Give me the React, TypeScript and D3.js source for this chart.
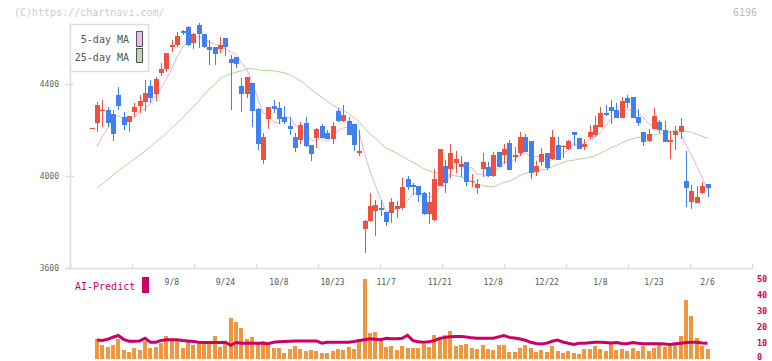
import React from "react";
import * as d3 from "d3";

const dates = ["8/18","8/19","8/20","8/21","8/22","8/25","8/26","8/27","8/28","8/29","9/1","9/2","9/3","9/4","9/5","9/8","9/9","9/10","9/11","9/12","9/16","9/17","9/18","9/19","9/22","9/24","9/25","9/26","9/29","9/30","10/1","10/2","10/3","10/6","10/7","10/8","10/9","10/10","10/14","10/15","10/16","10/17","10/20","10/21","10/22","10/23","10/24","10/27","10/28","10/29","10/30","10/31","11/4","11/5","11/6","11/7","11/10","11/11","11/12","11/13","11/14","11/17","11/18","11/19","11/20","11/21","11/25","11/26","11/27","11/28","12/1","12/2","12/3","12/4","12/5","12/8","12/9","12/10","12/11","12/12","12/15","12/16","12/17","12/18","12/19","12/22","12/23","12/24","12/25","12/26","12/29","12/30","1/5","1/6","1/7","1/8","1/9","1/13","1/14","1/15","1/16","1/19","1/20","1/21","1/22","1/23","1/26","1/27","1/28","1/29","1/30","2/2","2/3","2/4","2/5","2/6"];

const open = [4210,4232,4285,4287,4270,4352,4257,4233,4280,4306,4323,4393,4357,4449,4464,4560,4570,4630,4649,4580,4657,4617,4560,4560,4551,4599,4509,4519,4393,4357,4406,4291,4070,4248,4304,4294,4255,4217,4171,4157,4229,4135,4164,4217,4186,4161,4284,4239,4239,4225,4104,3770,3804,3848,3861,3845,3838,3857,3862,3987,3960,3957,3925,3835,3809,3958,4043,4029,4058,4040,4062,3977,3950,4030,4038,4000,4106,4091,4145,4084,4101,4171,4152,4017,4062,4101,4073,4135,4127,4117,4191,4164,4127,4171,4178,4214,4275,4299,4287,4253,4338,4345,4255,4193,4154,4204,4235,4200,4149,4178,4193,3978,3888,3884,3927,3965];
const high = [4210,4323,4330,4300,4287,4388,4280,4262,4317,4352,4417,4417,4430,4490,4536,4591,4627,4635,4652,4623,4664,4617,4591,4560,4606,4599,4526,4519,4425,4429,4406,4294,4186,4299,4330,4320,4304,4255,4186,4233,4255,4135,4207,4225,4200,4236,4297,4309,4258,4225,4200,3809,3925,3896,3896,3845,3903,3891,3993,4000,3971,3957,3932,3932,4029,4117,4070,4139,4110,4087,4062,4007,3987,4101,4061,4106,4106,4139,4157,4126,4191,4183,4152,4067,4122,4101,4200,4171,4135,4157,4191,4164,4160,4222,4261,4301,4309,4330,4316,4342,4352,4345,4290,4193,4203,4294,4243,4239,4196,4219,4251,4109,3961,3957,3975,3965];
const low = [4210,4193,4214,4215,4153,4287,4200,4193,4257,4275,4284,4319,4327,4435,4453,4538,4562,4615,4565,4551,4557,4555,4483,4483,4533,4522,4287,4468,4280,4338,4212,4113,4052,4204,4273,4226,4226,4178,4106,4139,4125,4067,4123,4164,4161,4138,4236,4233,4178,4110,4088,3667,3801,3739,3828,3783,3797,3819,3852,3939,3917,3888,3830,3791,3806,3958,3928,3993,4012,3997,3957,3951,3922,3994,3997,3997,4038,4052,4026,4061,4087,4106,3987,4000,4043,4026,4070,4070,4077,4113,4132,4117,4113,4160,4168,4212,4261,4226,4251,4253,4294,4253,4219,4132,4149,4204,4188,4149,4074,4113,4160,3867,3858,3884,3922,3907];
const close = [4210,4309,4288,4232,4181,4306,4222,4260,4299,4327,4362,4338,4422,4465,4533,4570,4610,4623,4570,4617,4617,4560,4548,4530,4570,4560,4490,4486,4357,4429,4284,4139,4168,4299,4291,4248,4236,4204,4123,4222,4132,4096,4204,4164,4161,4217,4239,4265,4178,4135,4107,3806,3870,3874,3852,3801,3887,3870,3953,3951,3951,3917,3835,3888,3987,4117,3968,4101,4074,4052,3975,3979,3965,4062,4000,4091,4040,4117,4026,4091,4171,4106,4014,4043,4096,4035,4171,4070,4132,4152,4178,4117,4139,4193,4222,4275,4265,4284,4253,4326,4319,4253,4232,4149,4183,4261,4202,4149,4157,4196,4217,3950,3935,3910,3957,3950];

// moving averages: first values (before enough history is visible)
const ma5Head = [null, 4126, 4170, 4209];
const ma25Head = [null,3948,3965,3983,4004,4022,4039,4057,4074,4091,4109,4126,4148,4165,4187,4209,4230,4252,4278,4300,4326,4352,4378,4396];

const volume = [null,12.3,8.5,7.3,8.5,12.3,5.4,4.2,6.7,5.4,11,6.7,7.3,9.8,14.2,12.3,11,6.7,11,8.5,9.8,9.8,9.8,14.2,7.3,11,25.4,23,19.2,12.3,13.5,9.8,11,8.5,6.7,6.7,3.6,6.1,7.9,6.1,4.8,5.4,4.8,3.6,3.6,4.8,6.1,5.4,7.3,6.1,11,49.8,16,16.7,11,7.3,7.9,5.4,7.9,6.7,6.7,6.7,9.2,7.3,14.8,11.7,14.8,17.3,7.9,8.5,9.2,6.7,6.1,8.5,6.1,5.4,8.5,8.5,4.2,4.2,6.7,8.5,6.7,4.2,5.4,4.2,7.9,4.8,3.6,4.8,3.6,3.0,6.1,6.1,7.9,6.1,4.8,9.8,5.4,6.1,4.8,6.7,4.8,7.9,4.8,6.7,8.5,7.3,7.9,9.2,14.2,36.7,26.7,12.9,7.9,6.1];

const aiPredict = [null,11.5,11.2,12.0,13.3,14.4,12.0,10.8,10.8,11.0,12.7,10.2,10.2,11.3,11.7,11.7,11.7,11.2,11.0,10.6,10.2,10.0,10.0,10.0,10.0,10.2,8.3,10.0,9.6,9.6,9.6,9.6,9.5,9.2,10.1,10.4,10.6,10.8,11.0,11.0,11.0,11.0,11.0,9.6,10.2,10.2,10.2,10.2,10.2,10.6,11.2,11.7,12.3,12.0,11.8,12.6,12.4,12.4,12.6,14.5,11.2,10.4,10.2,10.4,11.2,12.5,13.2,13.6,13.8,13.8,13.5,12.9,12.7,12.7,12.7,12.7,13.5,14.3,13.2,12.8,12.2,11.4,10.1,9.4,9.0,9.6,10.8,11.5,10.3,9.5,8.8,9.5,9.6,9.9,10.2,10.2,10.0,9.7,10.0,9.4,9.2,10.0,9.6,9.2,9.2,9.2,9.2,9.0,8.8,9.2,9.6,10.0,10.2,10.2,9.7,9.6];

const dateLabels = ["9/8","9/24","10/8","10/23","11/7","11/21","12/8","12/22","1/8","1/23","2/6"];
const priceTicks = [3600, 4000, 4400];
const volumeTicks = [0, 10, 20, 30, 40, 50];

const FONT = "'DejaVu Sans Mono', monospace";
const UP = "#f0503f";
const DOWN = "#4080f0";

function movingAvg(head: (number | null)[], n: number): (number | null)[] {
  return close.map((_, i) => {
    if (i < n - 1) return head[i] ?? null;
    return d3.mean(close.slice(i - n + 1, i + 1)) as number;
  });
}

export default function App() {
  const n = close.length;
  const plotLeft = 70;
  const plotRight = 752;
  const x = d3.scaleLinear().domain([0, n - 1]).range([91.5, 707.5]);
  const y = d3.scaleLinear().domain([3600, 4400]).range([268, 84]);
  const yv = d3.scaleLinear().domain([0, 50]).range([358.5, 278.5]);

  const ma5 = movingAvg(ma5Head, 5);
  const ma25 = movingAvg(ma25Head, 25);

  const maLine = d3
    .line<number | null>()
    .defined((d) => d != null)
    .x((_, i) => x(i))
    .y((d) => y(d as number));

  const aiLine = d3
    .line<number | null>()
    .defined((d) => d != null)
    .x((_, i) => x(i))
    .y((d) => yv(d as number));

  const tickCount = 11;
  const xTicks = d3.range(tickCount + 1).map((k) => plotLeft + ((plotRight - plotLeft) * k) / tickCount);

  const axisColor = "#dddddd";

  return (
    <svg
      width={772}
      height={361}
      style={{ position: "absolute", left: 0, top: 0, background: "#fff" }}
      fontFamily={FONT}
    >
      <text x={14} y={16} fontSize={10} fill="#cccccc">(C)https://chartnavi.com/</text>
      <text x={757} y={16} fontSize={10} fill="#bbbbbb" textAnchor="end">6196</text>

      {/* axes */}
      <line x1={70.5} x2={70.5} y1={24} y2={268} stroke={axisColor} strokeWidth={1.5} />
      <line x1={65} x2={plotRight} y1={268.5} y2={268.5} stroke={axisColor} strokeWidth={1.5} />
      {priceTicks.map((t) => (
        <g key={t}>
          <line x1={65} x2={74} y1={Math.round(y(t)) + 0.5} y2={Math.round(y(t)) + 0.5} stroke={axisColor} strokeWidth={1.5} />
          <text x={59} y={y(t) + 3} fontSize={8} fill="#666" textAnchor="end">{t}</text>
        </g>
      ))}
      {xTicks.map((t, i) => (
        <line key={i} x1={Math.round(t) + 0.5} x2={Math.round(t) + 0.5} y1={264} y2={269} stroke={axisColor} strokeWidth={1.5} />
      ))}
      {dateLabels.map((lab) => {
        const i = dates.indexOf(lab);
        return (
          <text key={lab} x={x(i)} y={285} fontSize={8} fill="#555" textAnchor="middle">{lab}</text>
        );
      })}

      {/* moving averages */}
      <path d={maLine(ma25) || ""} fill="none" stroke="#a9d89c" strokeWidth={1} />
      <path d={maLine(ma5) || ""} fill="none" stroke="#e6aee6" strokeWidth={1} />

      {/* candles */}
      <g shapeRendering="crispEdges">
        {close.map((c, i) => {
          const o = open[i];
          const up = c >= o;
          const col = up ? UP : DOWN;
          const cx = Math.round(x(i));
          const top = y(Math.max(o, c));
          const bot = y(Math.min(o, c));
          return (
            <g key={i}>
              <line x1={cx + 0.5} x2={cx + 0.5} y1={y(high[i])} y2={y(low[i])} stroke={col} strokeWidth={1} />
              <rect x={cx - 2} y={top} width={5} height={Math.max(1.5, bot - top)} fill={col} />
            </g>
          );
        })}
      </g>

      {/* legend */}
      <rect x={70.5} y={24.5} width={78} height={47} fill="#fff" stroke={axisColor} strokeWidth={1.5} />
      <text x={129} y={43} fontSize={10} fill="#555" textAnchor="end">5-day MA</text>
      <text x={129} y={61} fontSize={10} fill="#555" textAnchor="end">25-day MA</text>
      <rect x={136.5} y={31.5} width={6} height={15} fill="#eebbee" stroke="#555" />
      <rect x={136.5} y={48.5} width={6} height={14} fill="#bbddaa" stroke="#555" />

      {/* volume panel */}
      <g shapeRendering="crispEdges">
        {volume.map((v, i) =>
          v == null ? null : (
            <rect key={i} x={Math.round(x(i)) - 2} y={yv(v)} width={4} height={yv(0) - yv(v)} fill="#f0963e" />
          )
        )}
      </g>
      <path d={aiLine(aiPredict) || ""} fill="none" stroke="#cc0066" strokeWidth={3} />
      {volumeTicks.map((t) => (
        <text key={t} x={757} y={Math.min(yv(t) + 3, 359.5)} fontSize={8.5} fontWeight="bold" fill="#cc0066">{t}</text>
      ))}
      <text x={75} y={290} fontSize={10} fill="#cc0066">AI-Predict</text>
      <rect x={142} y={277} width={7} height={16} fill="#cc0066" />
    </svg>
  );
}
